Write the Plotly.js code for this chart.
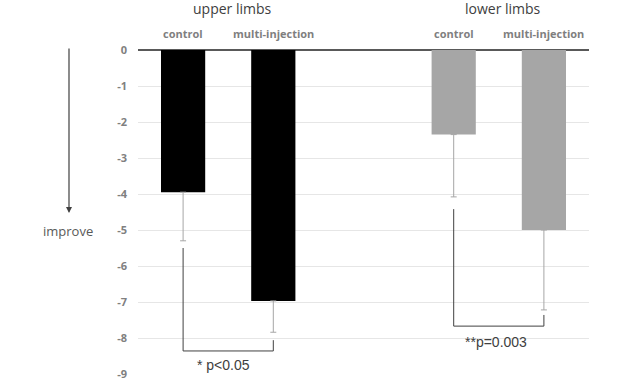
<!DOCTYPE html>
<html>
<head>
<meta charset="utf-8">
<script src="https://cdn.plot.ly/plotly-3.0.1.min.js"></script>
<style>html,body{margin:0;padding:0;background:#fff;}#chart{width:640px;height:384px;}</style>
</head>
<body>
<div id="chart"></div>
<script>
// Data
const categories = ["control", "multi-injection", "control", "multi-injection"];
const groups = ["upper limbs", "lower limbs"];
const slots = [0, 1, 3, 4];
const upperValues = [-3.95, -6.97];
const upperErr = [1.35, 0.87];
const lowerValues = [-2.35, -5.0];
const lowerErr = [1.73, 2.22];
const yTicks = [0, -1, -2, -3, -4, -5, -6, -7, -8, -9];
const upperBracketX = [0, 0, 1, 1];
const upperBracketY = [-5.5, -8.36, -8.36, -8.06];
const lowerBracketX = [3, 3, 4, 4];
const lowerBracketY = [-4.42, -7.67, -7.67, -7.36];
const sigLabels = ["* p<0.05", "**p=0.003"];
const sigLabelY = [-8.75, -8.12];

const errStyle = {type: 'data', symmetric: false, color: '#a6a6a6', thickness: 1, width: 3};

const traces = [
  {type: 'bar', x: slots.slice(0, 2), y: upperValues, width: 0.49,
   marker: {color: '#000000'}, hoverinfo: 'skip',
   error_y: Object.assign({array: [0, 0], arrayminus: upperErr}, errStyle)},
  {type: 'bar', x: slots.slice(2), y: lowerValues, width: 0.49,
   marker: {color: '#a6a6a6'}, hoverinfo: 'skip',
   error_y: Object.assign({array: [0, 0], arrayminus: lowerErr}, errStyle)},
  {type: 'scatter', mode: 'lines', x: upperBracketX, y: upperBracketY,
   line: {color: '#404040', width: 1}, hoverinfo: 'skip'},
  {type: 'scatter', mode: 'lines', x: lowerBracketX, y: lowerBracketY,
   line: {color: '#404040', width: 1}, hoverinfo: 'skip'}
];

const annotations = [];
categories.forEach((c, i) => {
  annotations.push({x: slots[i], y: 1.052, xref: 'x', yref: 'paper', text: c, showarrow: false,
    xanchor: 'center', yanchor: 'middle',
    font: {family: 'Open Sans, sans-serif', size: 11, color: '#7f7f7f', weight: 'bold'}});
});
groups.forEach((g, i) => {
  annotations.push({x: (slots[2 * i] + slots[2 * i + 1]) / 2 + 0.05, y: 1.127, xref: 'x', yref: 'paper', text: g, showarrow: false,
    xanchor: 'center', yanchor: 'middle',
    font: {family: 'Open Sans, sans-serif', size: 14, color: '#404040'}});
});
annotations.push({x: (upperBracketX[0] + upperBracketX[2]) / 2 - 0.05, y: sigLabelY[0], xref: 'x', yref: 'y', text: sigLabels[0], showarrow: false,
  xanchor: 'center', yanchor: 'middle',
  font: {family: 'Liberation Sans, Arial, sans-serif', size: 14, color: '#404040'}});
annotations.push({x: (lowerBracketX[0] + lowerBracketX[2]) / 2 - 0.03, y: sigLabelY[1], xref: 'x', yref: 'y', text: sigLabels[1], showarrow: false,
  xanchor: 'center', yanchor: 'middle',
  font: {family: 'Liberation Sans, Arial, sans-serif', size: 14, color: '#404040'}});
annotations.push({x: -0.153, y: 0.497, xref: 'paper', yref: 'paper', text: '', showarrow: true,
  ax: 0, ay: -166, arrowhead: 2, arrowsize: 1, arrowwidth: 1.2, arrowcolor: '#404040'});
annotations.push({x: -0.155, y: 0.441, xref: 'paper', yref: 'paper', text: 'improve', showarrow: false,
  xanchor: 'center', yanchor: 'middle',
  font: {family: 'Open Sans, sans-serif', size: 13, color: '#595959'}});

const layout = {
  width: 640, height: 384,
  margin: {l: 138, r: 51, t: 50, b: 10},
  paper_bgcolor: '#ffffff', plot_bgcolor: '#ffffff',
  showlegend: false,
  barmode: 'overlay',
  xaxis: {range: [-0.5, 4.5], showticklabels: false, showgrid: false, zeroline: false, fixedrange: true},
  yaxis: {range: [-9, 0], tickvals: yTicks, ticktext: yTicks.map(String), showgrid: true,
    gridcolor: '#e6e6e6', gridwidth: 1, zeroline: true, zerolinecolor: '#595959', zerolinewidth: 1.5,
    tickfont: {family: 'Open Sans, sans-serif', size: 11, color: '#808080', weight: 'bold'},
    ticklabelstandoff: 10, fixedrange: true},
  annotations: annotations
};

Plotly.newPlot('chart', traces, layout, {displayModeBar: false, staticPlot: true});
</script>
</body>
</html>
